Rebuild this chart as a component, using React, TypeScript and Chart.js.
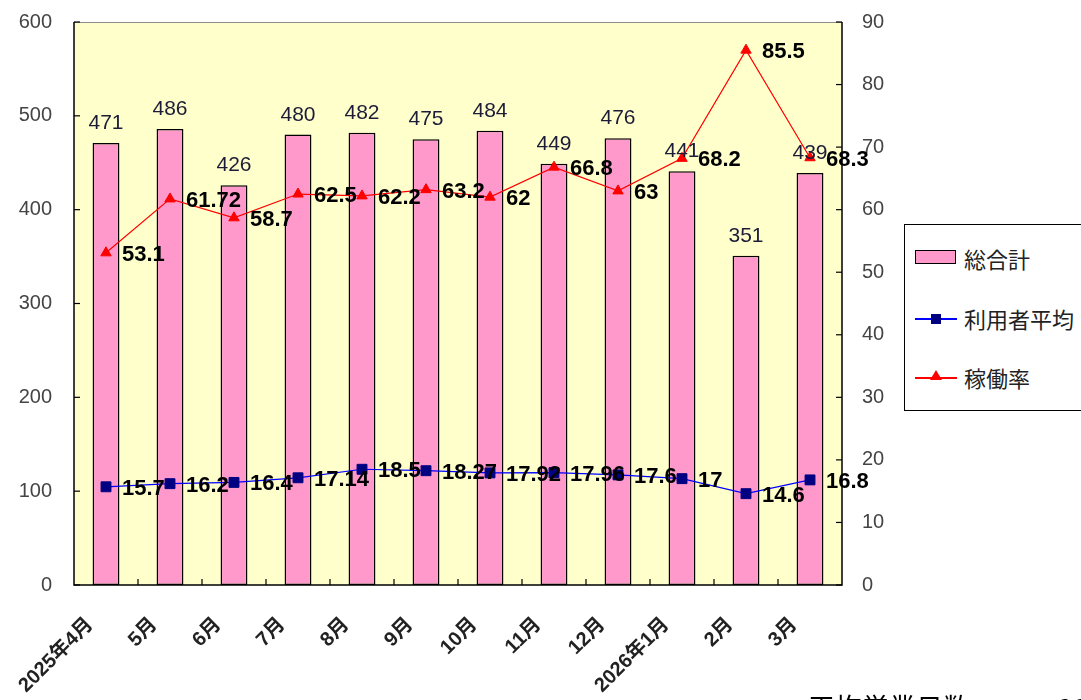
import React, { useEffect, useRef } from "react";
import { Chart, registerables } from "chart.js";

Chart.register(...registerables);

const categories = [
  "2025年4月", "5月", "6月", "7月", "8月", "9月",
  "10月", "11月", "12月", "2026年1月", "2月", "3月",
];
const totals = [471, 486, 426, 480, 482, 475, 484, 449, 476, 441, 351, 439];
const userAverage = [15.7, 16.2, 16.4, 17.14, 18.5, 18.27, 17.92, 17.96, 17.6, 17, 14.6, 16.8];
const operatingRate = [53.1, 61.72, 58.7, 62.5, 62.2, 63.2, 62, 66.8, 63, 68.2, 85.5, 68.3];
const seriesNames = ["総合計", "利用者平均", "稼働率"];
const leftMax = 600;
const leftStep = 100;
const rightMax = 90;
const rightStep = 10;

const LATIN = '"Liberation Sans", Arial, "Noto Sans CJK JP", sans-serif';

const decorPlugin = {
  id: "decor",
  beforeDatasetsDraw(chart: any) {
    const { ctx, chartArea: a } = chart;
    ctx.save();
    ctx.fillStyle = "#FFFFCC";
    ctx.fillRect(a.left, a.top, a.right - a.left, a.bottom - a.top);
    ctx.strokeStyle = "#8c8c8c";
    ctx.lineWidth = 1;
    ctx.beginPath();
    ctx.moveTo(a.left, a.top + 0.5);
    ctx.lineTo(a.right, a.top + 0.5);
    ctx.stroke();
    ctx.restore();
  },
  afterDatasetsDraw(chart: any) {
    const { ctx, chartArea: a, scales } = chart;
    ctx.save();
    ctx.strokeStyle = "#000";
    ctx.lineWidth = 1.5;
    ctx.beginPath();
    ctx.moveTo(a.left, a.top);
    ctx.lineTo(a.left, a.bottom);
    ctx.lineTo(a.right, a.bottom);
    ctx.lineTo(a.right, a.top);
    ctx.stroke();
    ctx.lineWidth = 1.2;
    const y = scales.y;
    y.ticks.forEach((t: any) => {
      const py = y.getPixelForValue(t.value);
      ctx.beginPath();
      ctx.moveTo(a.left, py);
      ctx.lineTo(a.left + 6, py);
      ctx.stroke();
    });
    const y1 = scales.y1;
    y1.ticks.forEach((t: any) => {
      const py = y1.getPixelForValue(t.value);
      ctx.beginPath();
      ctx.moveTo(a.right, py);
      ctx.lineTo(a.right - 6, py);
      ctx.stroke();
    });
    const x = scales.x;
    for (let i = 1; i < categories.length; i++) {
      const px = (x.getPixelForValue(i - 1) + x.getPixelForValue(i)) / 2;
      ctx.beginPath();
      ctx.moveTo(px, a.bottom);
      ctx.lineTo(px, a.bottom - 6);
      ctx.stroke();
    }

    ctx.fillStyle = "#1c1c38";
    ctx.font = `21px ${LATIN}`;
    ctx.textAlign = "center";
    ctx.textBaseline = "alphabetic";
    chart.getDatasetMeta(0).data.forEach((el: any, i: number) => {
      ctx.fillText(String(totals[i]), el.x, el.y - 14);
    });
    ctx.fillStyle = "#000";
    ctx.font = `bold 22px ${LATIN}`;
    ctx.textAlign = "left";
    ctx.textBaseline = "middle";
    chart.getDatasetMeta(1).data.forEach((el: any, i: number) => {
      ctx.fillText(String(userAverage[i]), el.x + 16, el.y + 2);
    });
    chart.getDatasetMeta(2).data.forEach((el: any, i: number) => {
      ctx.fillText(String(operatingRate[i]), el.x + 16, el.y + 2);
    });
    ctx.restore();
  },
};

export default function App() {
  const ref = useRef<HTMLCanvasElement | null>(null);

  useEffect(() => {
    document.body.style.margin = "0";
    if (!ref.current) return;
    const chart = new Chart(ref.current, {
      type: "bar",
      data: {
        labels: categories,
        datasets: [
          {
            type: "bar",
            label: seriesNames[0],
            data: totals,
            yAxisID: "y",
            backgroundColor: "#FF99CC",
            borderColor: "#000",
            borderWidth: 1.5,
            borderSkipped: false,
            categoryPercentage: 1,
            barPercentage: 0.42,
            order: 3,
          } as any,
          {
            type: "line",
            label: seriesNames[1],
            data: userAverage,
            yAxisID: "y1",
            borderColor: "#0000FF",
            borderWidth: 1.2,
            pointStyle: "rect",
            pointRadius: 7,
            pointBackgroundColor: "#000080",
            pointBorderColor: "#000080",
            pointBorderWidth: 1,
            order: 2,
          } as any,
          {
            type: "line",
            label: seriesNames[2],
            data: operatingRate,
            yAxisID: "y1",
            borderColor: "#FF0000",
            borderWidth: 1.2,
            pointStyle: "triangle",
            pointRadius: 6,
            pointBackgroundColor: "#FF0000",
            pointBorderColor: "#FF0000",
            pointBorderWidth: 1,
            order: 1,
          } as any,
        ],
      },
      options: {
        animation: false,
        responsive: false,
        maintainAspectRatio: false,
        layout: { padding: { left: 0, right: 189, top: 22, bottom: 0 } },
        plugins: {
          legend: { display: false },
          tooltip: { enabled: false },
        },
        scales: {
          x: {
            offset: true,
            grid: { display: false, offset: true },
            border: { display: false },
            ticks: {
              autoSkip: false,
              minRotation: 45,
              maxRotation: 45,
              padding: 20,
              labelOffset: -16,
              color: "#222",
              font: { family: LATIN, size: 20, weight: "bold" },
            },
            afterFit: (s: any) => {
              s.height = 115;
              s.paddingLeft = 0;
              s.paddingRight = 0;
            },
          },
          y: {
            position: "left",
            min: 0,
            max: leftMax,
            ticks: {
              stepSize: leftStep,
              padding: 14,
              color: "#444",
              font: { family: LATIN, size: 20 },
            },
            grid: { display: false },
            border: { display: false },
            afterFit: (s: any) => {
              s.width = 74;
              s.paddingTop = 0;
              s.paddingBottom = 0;
            },
          },
          y1: {
            position: "right",
            min: 0,
            max: rightMax,
            ticks: {
              stepSize: rightStep,
              padding: 12,
              color: "#444",
              font: { family: LATIN, size: 20 },
            },
            grid: { display: false },
            border: { display: false },
            afterFit: (s: any) => {
              s.width = 50;
              s.paddingTop = 0;
              s.paddingBottom = 0;
            },
          },
        },
      },
      plugins: [decorPlugin],
    });
    return () => chart.destroy();
  }, []);

  const legendText: React.CSSProperties = {
    position: "absolute",
    left: 59,
    fontFamily: '"Noto Sans CJK JP", sans-serif',
    fontSize: 22,
    lineHeight: "26px",
    color: "#222",
    whiteSpace: "nowrap",
  };

  return (
    <div style={{ position: "relative", width: 1081, height: 700, overflow: "hidden", background: "#fff" }}>
      <canvas ref={ref} width={1081} height={700} style={{ position: "absolute", left: 0, top: 0, width: 1081, height: 700 }} />
      <div
        style={{
          position: "absolute",
          left: 904,
          top: 224,
          width: 190,
          height: 187,
          border: "1.5px solid #000",
          boxSizing: "border-box",
          background: "#fff",
        }}
      >
        <div style={{ position: "absolute", left: 10, top: 25, width: 41, height: 14, background: "#FF99CC", border: "1.5px solid #000", boxSizing: "border-box" }} />
        <div style={{ ...legendText, top: 20 }}>{seriesNames[0]}</div>

        <div style={{ position: "absolute", left: 10, top: 93, width: 42, height: 1.5, background: "#0000FF" }} />
        <div style={{ position: "absolute", left: 26, top: 89, width: 10, height: 10, background: "#000080" }} />
        <div style={{ ...legendText, top: 80 }}>{seriesNames[1]}</div>

        <div style={{ position: "absolute", left: 10, top: 152, width: 42, height: 1.5, background: "#FF0000" }} />
        <div
          style={{
            position: "absolute",
            left: 25,
            top: 145,
            width: 0,
            height: 0,
            borderLeft: "6px solid transparent",
            borderRight: "6px solid transparent",
            borderBottom: "10px solid #FF0000",
          }}
        />
        <div style={{ ...legendText, top: 139 }}>{seriesNames[2]}</div>
      </div>
      <div
        style={{
          position: "absolute",
          left: 808,
          top: 692,
          fontFamily: '"Noto Sans CJK JP", serif',
          fontSize: 27,
          lineHeight: "30px",
          color: "#000",
          whiteSpace: "nowrap",
        }}
      >
        平均営業日数
      </div>
      <div
        style={{
          position: "absolute",
          left: 1058,
          top: 692,
          fontFamily: '"Noto Sans CJK JP", serif',
          fontSize: 27,
          lineHeight: "30px",
          color: "#000",
          whiteSpace: "nowrap",
        }}
      >
        20
      </div>
    </div>
  );
}
